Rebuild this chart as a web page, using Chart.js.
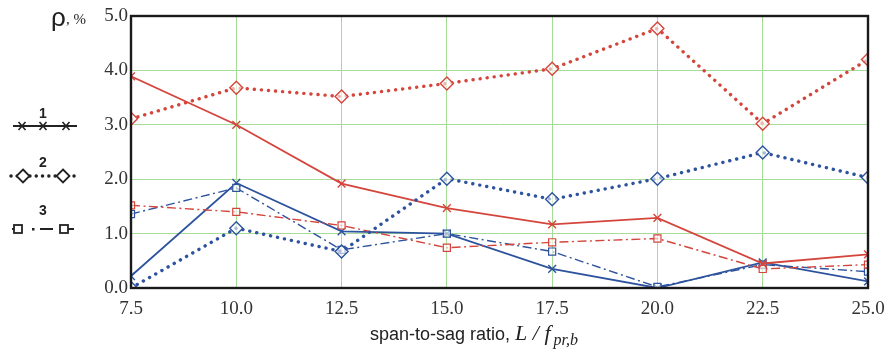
<!DOCTYPE html>
<html><head><meta charset="utf-8">
<script src="https://cdn.jsdelivr.net/npm/chart.js@4/dist/chart.umd.min.js"></script>
<style>html,body{margin:0;padding:0;background:#fff}#wrap{width:889px;height:356px;position:relative}</style>
</head><body><div id="wrap"><canvas id="c" width="889" height="356"></canvas></div>
<script>
const ratios = [7.5, 10.0, 12.5, 15.0, 17.5, 20.0, 22.5, 25.0];
const red1 = [3.89, 3.00, 1.92, 1.47, 1.17, 1.29, 0.45, 0.62];
const red2 = [3.11, 3.68, 3.52, 3.76, 4.03, 4.77, 3.02, 4.20];
const red3 = [1.52, 1.40, 1.15, 0.74, 0.84, 0.91, 0.35, 0.43];
const blue1 = [0.22, 1.93, 1.04, 1.00, 0.35, 0.00, 0.47, 0.12];
const blue2 = [0.00, 1.10, 0.67, 2.01, 1.63, 2.01, 2.49, 2.03];
const blue3 = [1.36, 1.84, 0.70, 1.00, 0.67, 0.02, 0.43, 0.30];
const yTicks = [0, 1, 2, 3, 4, 5];
const xTickLabels = ['7.5','10.0','12.5','15.0','17.5','20.0','22.5','25.0'];

const RED = '#d4453c', BLUE = '#2d539e';
const pts = arr => arr.map((v,i)=>({x: ratios[i], y: v}));
const styleSolid = {borderWidth:1.8, pointStyle:'crossRot', pointRadius:5.5, pointBorderWidth:1.4};
const styleDot = {borderWidth:3.4, borderDash:[0.1,7], borderCapStyle:'round', pointStyle:'rectRot', pointRadius:6.5, pointBorderWidth:1.4, pointBackgroundColor:'rgba(255,255,255,0.6)'};
const styleDashDot = {borderWidth:1.4, borderDash:[9,3.5,2,3.5], pointStyle:'rect', pointRadius:5, pointBorderWidth:1.2, pointBackgroundColor:'rgba(255,255,255,0.6)'};
function ds(data, color, st){
  return Object.assign({data: pts(data), borderColor: color, pointBorderColor: color, backgroundColor: color, fill:false, tension:0}, st);
}

const frame = {
  id:'frame',
  afterDatasetsDraw(chart){
    const {ctx, chartArea:a} = chart;
    ctx.save();
    ctx.strokeStyle = '#1a1a1a'; ctx.lineWidth = 2.4;
    ctx.strokeRect(a.left, a.top, a.right-a.left, a.bottom-a.top);
    ctx.restore();
  },
  afterDraw(chart){
    const ctx = chart.ctx;
    ctx.save();
    ctx.fillStyle = '#222';
    // y title
    ctx.textBaseline = 'alphabetic';
    ctx.font = '26px "Liberation Sans"';
    ctx.fillText('ρ', 51, 26);
    ctx.font = '15px "Liberation Serif"';
    ctx.fillText(', %', 66, 24);
    // x title
    ctx.font = '18px "Liberation Sans"';
    const t1 = 'span-to-sag ratio, ';
    let x = 370, y = 340;
    ctx.fillText(t1, x, y); x += ctx.measureText(t1).width;
    ctx.font = 'italic 22px "Liberation Serif"';
    const t2 = 'L / f';
    ctx.fillText(t2, x, y); x += ctx.measureText(t2).width + 3;
    ctx.font = 'italic 16px "Liberation Serif"';
    ctx.fillText('pr,b', x, y + 5);
    // legend
    ctx.font = 'bold 14px "Liberation Sans"';
    ctx.textAlign = 'center';
    ctx.fillText('1', 43, 118);
    ctx.fillText('2', 43, 167);
    ctx.fillText('3', 43, 215);
    ctx.strokeStyle = '#222'; ctx.fillStyle = '#222';
    // 1 solid with x
    ctx.lineWidth = 1.8;
    ctx.beginPath(); ctx.moveTo(13,126); ctx.lineTo(77,126); ctx.stroke();
    ctx.lineWidth = 1.6;
    [22,43,66].forEach(cx=>{ctx.beginPath();ctx.moveTo(cx-3.5,122);ctx.lineTo(cx+3.5,130);ctx.moveTo(cx+3.5,122);ctx.lineTo(cx-3.5,130);ctx.stroke();});
    // 2 dotted with diamonds
    ctx.lineWidth = 3.4; ctx.lineCap='round'; ctx.setLineDash([0.1,6.2]);
    ctx.beginPath(); ctx.moveTo(11,176); ctx.lineTo(79,176); ctx.stroke();
    ctx.setLineDash([]); ctx.lineCap='butt'; ctx.lineWidth=1.8;
    [23,63].forEach(cx=>{ctx.beginPath();ctx.moveTo(cx,169.5);ctx.lineTo(cx+6.5,176);ctx.lineTo(cx,182.5);ctx.lineTo(cx-6.5,176);ctx.closePath();ctx.fillStyle='#fff';ctx.fill();ctx.stroke();});
    // 3 dash-dot with squares
    ctx.lineWidth = 1.8;
    ctx.beginPath(); ctx.moveTo(12,229); ctx.lineTo(17,229); ctx.moveTo(40,229); ctx.lineTo(53,229); ctx.moveTo(68,229); ctx.lineTo(74,229); ctx.stroke();
    ctx.fillStyle='#222'; ctx.fillRect(32,228,2.5,2.5);
    [[18,229],[64,229]].forEach(([cx,cy])=>{ctx.fillStyle='#fff';ctx.fillRect(cx-4,cy-4,8,8);ctx.strokeRect(cx-4,cy-4,8,8);});
    ctx.restore();
  }
};

new Chart(document.getElementById('c'), {
  type:'line',
  data:{ datasets:[
    ds(red2, RED, styleDot),
    ds(blue2, BLUE, styleDot),
    ds(red1, RED, styleSolid),
    ds(red3, RED, styleDashDot),
    ds(blue3, BLUE, styleDashDot),
    ds(blue1, BLUE, styleSolid)
  ]},
  options:{
    responsive:false, animation:false, devicePixelRatio:1,
    layout:{padding:{left:0, right:21, top:16, bottom:0}},
    plugins:{legend:{display:false}, tooltip:{enabled:false}},
    scales:{
      x:{type:'linear', min:7.5, max:25, 
         afterBuildTicks(s){ s.ticks = ratios.map(v=>({value:v})); },
         afterFit(s){ s.height = 68; s.paddingLeft = 0; s.paddingRight = 0; },
         grid:{color:'#a6dc98', lineWidth:1, drawTicks:false},
         border:{display:false},
         ticks:{padding:10, color:'#333', font:{family:'"Liberation Serif"', size:19},
                callback:(v,i)=> xTickLabels[i]}},
      y:{min:0, max:5,
         afterBuildTicks(s){ s.ticks = yTicks.map(v=>({value:v})); },
         afterFit(s){ s.width = 131; s.paddingTop = 0; s.paddingBottom = 0; },
         grid:{color:'#a6dc98', lineWidth:1, drawTicks:false},
         border:{display:false},
         ticks:{padding:3, color:'#333', font:{family:'"Liberation Serif"', size:19},
                callback:v=> Number(v).toFixed(1)}}
    }
  },
  plugins:[frame]
});
</script></body></html>
